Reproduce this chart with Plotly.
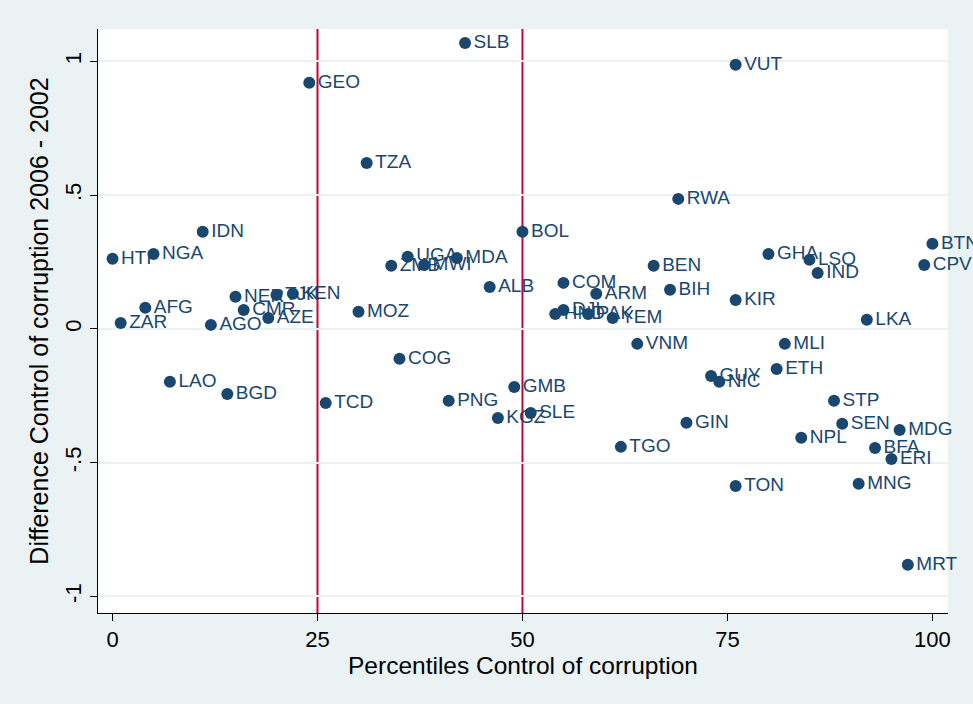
import plotly.graph_objects as go

countries = ["HTI","ZAR","NGA","AFG","IDN","LAO","BGD","AGO","NER","CMR","AZE","TJK","KEN",
             "GEO","TCD","TZA","MOZ","COG","ZMB","UGA","MWI","MDA","ALB","SLB","BOL","PNG",
             "KGZ","GMB","SLE","COM","ARM","HND","DJI","PAK","YEM","BEN","BIH","RWA","VUT",
             "VNM","TGO","GIN","GUY","NIC","GHA","LSO","IND","KIR","MLI","ETH","STP","SEN",
             "NPL","MDG","BFA","ERI","TON","MNG","MRT","LKA","BTN","CPV"]
percentile = [0,1,5,4,11,7,14,12,15,16,19,20,22,
              24,26,31,30,35,34,36,38,42,46,43,50,41,
              47,49,51,55,59,54,55,58,61,66,68,69,76,
              64,62,70,73,74,80,85,86,76,82,81,88,89,
              84,96,93,95,76,91,97,92,100,99]
difference = [0.262,0.022,0.28,0.079,0.363,-0.198,-0.243,0.015,0.12,0.071,0.041,0.127,0.131,
              0.92,-0.277,0.62,0.064,-0.112,0.236,0.27,0.239,0.265,0.157,1.069,0.363,-0.269,
              -0.333,-0.217,-0.314,0.172,0.131,0.056,0.071,0.056,0.041,0.236,0.146,0.486,0.987,
              -0.056,-0.441,-0.351,-0.176,-0.198,0.28,0.258,0.209,0.108,-0.056,-0.15,-0.269,-0.355,
              -0.407,-0.378,-0.445,-0.486,-0.587,-0.579,-0.882,0.034,0.318,0.239]

x_ticks = [0, 25, 50, 75, 100]
y_ticks = [-1, -0.5, 0, 0.5, 1]
y_tick_labels = ["-1", "-.5", "0", ".5", "1"]
ref_lines = [25, 50]

navy = "#1A476F"
red = "#C10534"
bg = "#EAF2F3"
font = "Liberation Sans, Arial, sans-serif"

fig = go.Figure()
fig.add_trace(go.Scatter(
    x=percentile, y=difference, mode="markers+text", text=countries,
    textposition="middle right",
    textfont=dict(family=font, size=19, color=navy),
    marker=dict(size=12, color=navy),
    cliponaxis=False, showlegend=False,
))
for xv in ref_lines:
    fig.add_shape(type="line", x0=xv, x1=xv, xref="x", y0=0, y1=1, yref="paper",
                  line=dict(color=red, width=2), layer="below")

fig.update_layout(
    width=973, height=704,
    paper_bgcolor=bg, plot_bgcolor="white",
    margin=dict(l=98, r=25, t=29, b=91),
    font=dict(family=font, color="black"),
    xaxis=dict(range=[-1.77, 101.9], tickvals=x_ticks, ticktext=[str(v) for v in x_ticks],
               showgrid=False, zeroline=False, showline=True, linecolor="black", linewidth=1,
               ticks="outside", ticklen=7, tickcolor="black", tickfont=dict(size=22),
               title=dict(text="Percentiles Control of corruption", font=dict(size=24.5), standoff=2)),
    yaxis=dict(range=[-1.062, 1.121], tickvals=y_ticks, ticktext=y_tick_labels,
               showgrid=True, gridcolor=bg, gridwidth=1.5, zeroline=False,
               showline=True, linecolor="black", linewidth=1,
               ticks="outside", ticklen=7, tickcolor="black", tickangle=-90, tickfont=dict(size=22),
               title=dict(text="Difference Control of corruption 2006 - 2002", font=dict(size=25), standoff=5)),
)

fig.write_html("out.html", config={"displayModeBar": False},
               post_script="document.body.style.margin='0';document.body.style.padding='0';")
